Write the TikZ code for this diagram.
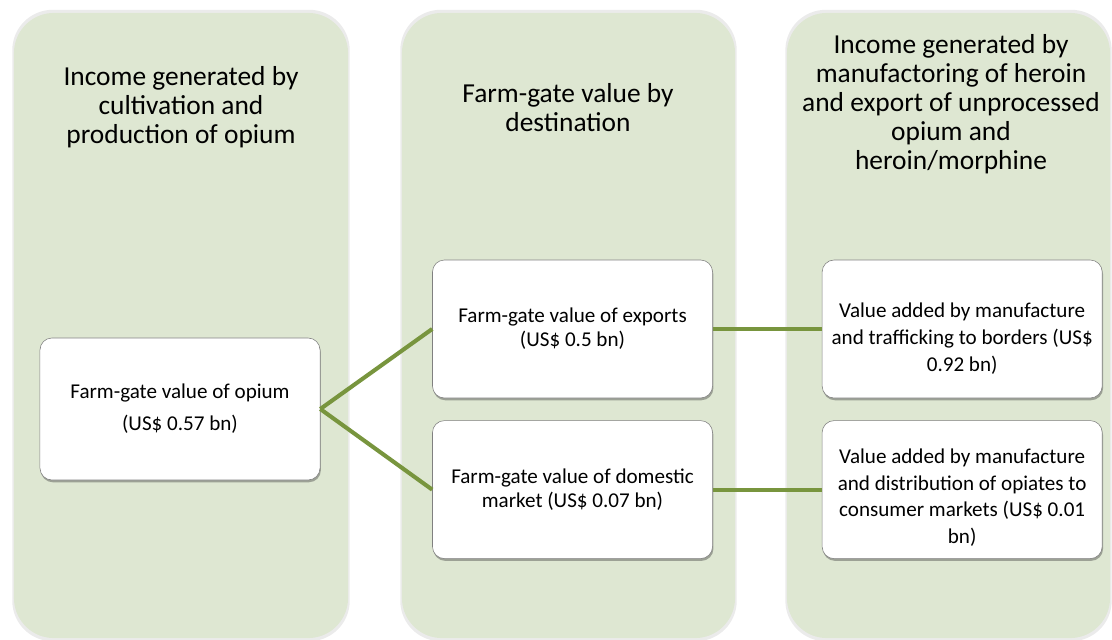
\documentclass[tikz,border=0pt]{standalone}
\usepackage{fontspec}
\setmainfont{Carlito}
\usepackage{tikz}
\usetikzlibrary{positioning, shadows}
\definecolor{colfill}{RGB}{222,231,210}
\definecolor{linkgreen}{RGB}{120,149,62}

\begin{document}
\begin{tikzpicture}
            [x=0.025cm, y=-0.025cm, node distance=0.55cm, semithick,
            column/.style={rectangle, rounded corners=1cm, fill=colfill, minimum height=15.625cm,
                general shadow={fill=black, opacity=0.08, shadow scale=1.01}},
            heading/.style={align=center, font=\fontsize{19.5}{20.6}\selectfont},
            valuebox/.style={rectangle, rounded corners=0.3cm, align=center, draw=black!50, thin, fill=white,
                minimum width=7cm, minimum height=3.45cm, font=\fontsize{15}{17}\selectfont,
                drop shadow={shadow xshift=0.6pt, shadow yshift=-1.6pt, opacity=0.45, fill=black!70}},
            addedbox/.style={valuebox, font=\fontsize{15}{19}\selectfont},
            link/.style={draw=linkgreen, line width=2.9pt}]

            \useasboundingbox (0,0) rectangle (1112,639);

            % the three stages
            \node[column, minimum width=8.35cm] (col1) at (181,325.5) {};
            \node[column, minimum width=8.325cm] (col2) at (568.5,325.5) {};
            \node[column, minimum width=8.075cm] (col3) at (948.5,325.5) {};

            \node[heading] (head1) at (181,107.5) {Income generated by\\cultivation and\\production of opium};
            \node[heading] (head2) at (568,107.5) {Farm-gate value by\\destination};
            \node[heading] (head3) at (951,104.5) {Income generated by\\manufactoring of heroin\\and export of unprocessed\\opium and\\heroin/morphine};

            \node[valuebox, minimum height=3.55cm] (opium) at (180,409) {Farm-gate value of opium\\[5.7pt](US\$ 0.57 bn)};
            \node[valuebox] (exports) at (572.5,329) {Farm-gate value of exports\\(US\$ 0.5 bn)};
            \node[valuebox] (domestic) [below = of exports] {Farm-gate value of domestic\\market (US\$ 0.07 bn)};
            \node[addedbox] (borders) [right = 2.725cm of exports] {\rule{0pt}{24pt}Value added by manufacture\\and trafficking to borders (US\$\\0.92 bn)};
            \node[addedbox] (consumer) [right = 2.725cm of domestic] {\rule{0pt}{22pt}Value added by manufacture\\and distribution of opiates to\\consumer markets (US\$ 0.01\\bn)};

            \draw[link] (opium.east) -- (exports.west);
            \draw[link] (opium.east) -- (domestic.west);
            \draw[link] (exports.east) -- (borders.west);
            \draw[link] (domestic.east) -- (consumer.west);
        \end{tikzpicture}
\end{document}
